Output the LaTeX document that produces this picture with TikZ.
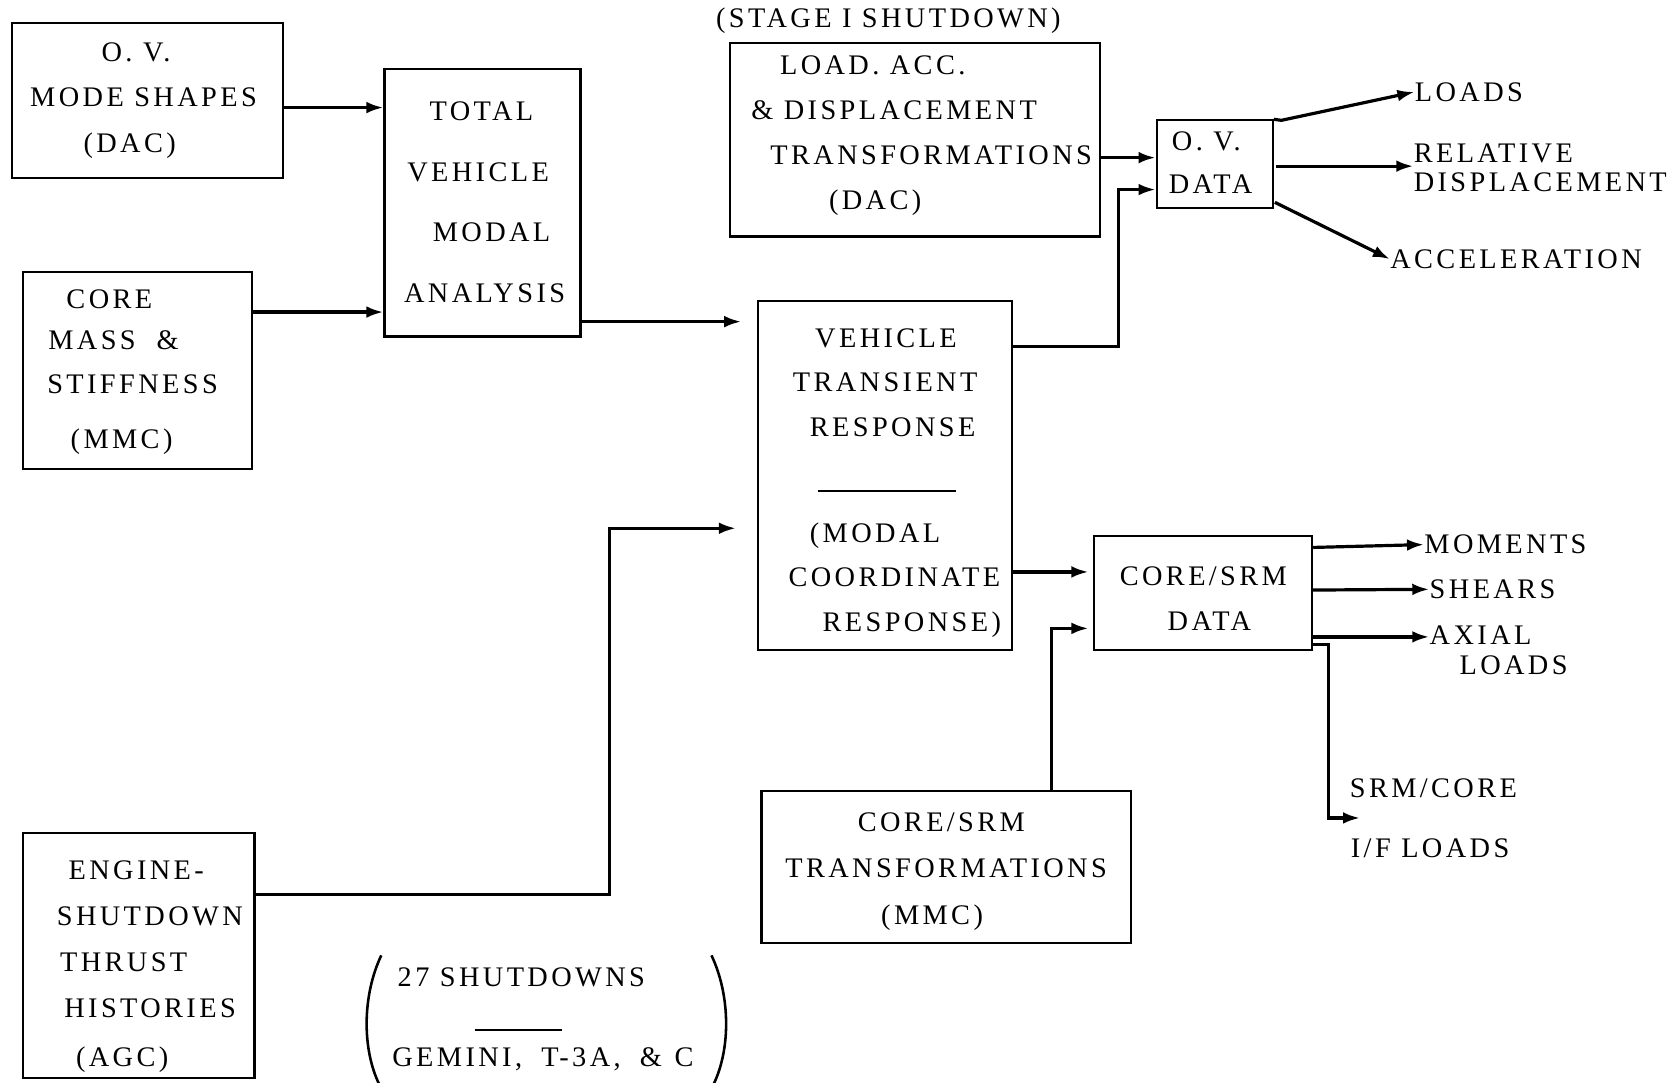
\documentclass[tikz,border=0pt]{standalone}
\usepackage{fontspec}
\setmainfont{Liberation Serif}[LetterSpace=12]
\usetikzlibrary{fit,arrows.meta}
\begin{document}
\begin{tikzpicture}[x=0.5pt,y=-0.5pt,
  box/.style={draw, line width=1pt, inner sep=0pt},
  txt/.style={anchor=base west, inner sep=0pt, font=\fontsize{13.3}{15}\selectfont},
  conn/.style={line width=1.5pt, -{Latex[length=8pt,width=5.5pt]}},
  rule/.style={line width=1pt}]
\useasboundingbox[fill=white] (0,0) rectangle (1568,1016);

% boxes
\node[box, fit={(11,22) (266,167)}] (ovm) {};
\node[box, fit={(361,65) (545,316)}] (tva) {};
\node[box, fit={(22,255) (237,440)}] (cmb) {};
\node[box, fit={(685,40) (1033,222)}] (ld) {};
\node[box, fit={(1086,113) (1195,195)}] (ovd) {};
\node[box, fit={(712,283) (950,610)}] (tvr) {};
\node[box, fit={(1027,503) (1232,610)}] (csd) {};
\node[box, fit={(715,743) (1062,885)}] (cst) {};
\node[box, fit={(22,782) (239,1012)}] (eng) {};

% box texts
\node[txt] (t1a) at (95,58) {O. V.};
\node[txt] (t1b) at (28,100) {MODE SHAPES};
\node[txt] (t1c) at (78,143) {(DAC)};

\node[txt] (t2a) at (403,113) {TOTAL};
\node[txt] (t2b) at (382,170) {VEHICLE};
\node[txt] (t2c) at (406,227) {MODAL};
\node[txt] (t2d) at (379,284) {ANALYSIS};

\node[txt] (t3a) at (62,290) {CORE};
\node[txt] (t3b) at (45,328) {MASS\ \ \&};
\node[txt] (t3c) at (44,369) {STIFFNESS};
\node[txt] (t3d) at (66,421) {(MMC)};

\node[txt] (stg) at (672,26) {(STAGE I SHUTDOWN)};
\node[txt] (t4a) at (732,70) {LOAD.\ ACC.};
\node[txt] (t4b) at (705,112) {\& DISPLACEMENT};
\node[txt] (t4c) at (723,154) {TRANSFORMATIONS};
\node[txt] (t4d) at (778,197) {(DAC)};

\node[txt] (t5a) at (1100,141) {O.\ V.};
\node[txt] (t5b) at (1097,182) {DATA};

\node[txt] (loads) at (1328,95) {LOADS};
\node[txt] (rel) at (1327,153) {RELATIVE};
\node[txt] (disp) at (1327,180) {DISPLACEMENT};
\node[txt] (acc) at (1305,252) {ACCELERATION};

\node[txt] (t6a) at (765,326) {VEHICLE};
\node[txt] (t6b) at (744,368) {TRANSIENT};
\node[txt] (t6c) at (760,410) {RESPONSE};
\node[txt] (t6d) at (760,509) {(MODAL};
\node[txt] (t6e) at (740,551) {COORDINATE};
\node[txt] (t6f) at (772,593) {RESPONSE)};
\draw[rule] (768,461) -- (898,461);

\node[txt] (t7a) at (1051,550) {CORE/SRM};
\node[txt] (t7b) at (1096,592) {DATA};

\node[txt] (mom) at (1337,520) {MOMENTS};
\node[txt] (shr) at (1342,562) {SHEARS};
\node[txt] (axl) at (1342,605) {AXIAL};
\node[txt] (axl2) at (1370,633) {LOADS};
\node[txt] (srm) at (1267,749) {SRM/CORE};
\node[txt] (ifl) at (1268,805) {I/F LOADS};

\node[txt] (t8a) at (805,781) {CORE/SRM};
\node[txt] (t8b) at (737,824) {TRANSFORMATIONS};
\node[txt] (t8c) at (827,868) {(MMC)};

\node[txt] (t9a) at (64,826) {ENGINE-};
\node[txt] (t9b) at (53,869) {SHUTDOWN};
\node[txt] (t9c) at (56,912) {THRUST};
\node[txt] (t9d) at (60,955) {HISTORIES};
\node[txt] (t9e) at (71,1001) {(AGC)};

\node[txt] (n1) at (373,926) {27 SHUTDOWNS};
\node[txt] (n2) at (368,1001) {GEMINI,\hspace{9pt}T-3A,\hspace{9pt}\&\hspace{6pt}C};
\draw[rule] (446,967) -- (528,967);
\draw[line width=1.2pt] (358,897) .. controls (340,935) and (340,985) .. (356,1018);
\draw[line width=1.2pt] (668,897) .. controls (686,935) and (686,985) .. (670,1018);

% connectors
\draw[conn] (ovm.east |- 0,101) -- (tva.west |- 0,101);
\draw[conn] (cmb.east |- 0,293) -- (tva.west |- 0,293);
\draw[conn, shorten >=7.5pt] (tva.east |- 0,302) -- (tvr.west |- 0,302);
\draw[conn, shorten >=10pt] (eng.east |- 0,840) -| (572,496) -- (tvr.west |- 0,496);
\draw[conn] (ld.east |- 0,148) -- (ovd.west |- 0,148);
\draw[conn] (tvr.east |- 0,325) -| (1050,178) -- (ovd.west |- 0,178);
\draw[conn] (ovd.north east) -- (1203,113) -- (loads.west);
\draw[conn] (1198,156) -- (rel.west |- 0,156);
\draw[conn] (1197,190) -- (acc.west);
\draw[conn, shorten >=2pt] (tvr.east |- 0,537) -- (csd.west |- 0,537);
\draw[conn, shorten >=2pt] (cst.north -| 987,0) |- (csd.west |- 0,590);
\draw[conn] (csd.east |- 0,514) -- (mom.west);
\draw[conn] (csd.east |- 0,554) -- (shr.west);
\draw[conn] (csd.east |- 0,598) -- (axl.west |- 0,598);
\draw[conn] (csd.east |- 0,605) -- (1247,605) |- (1277,768);
\end{tikzpicture}
\end{document}
